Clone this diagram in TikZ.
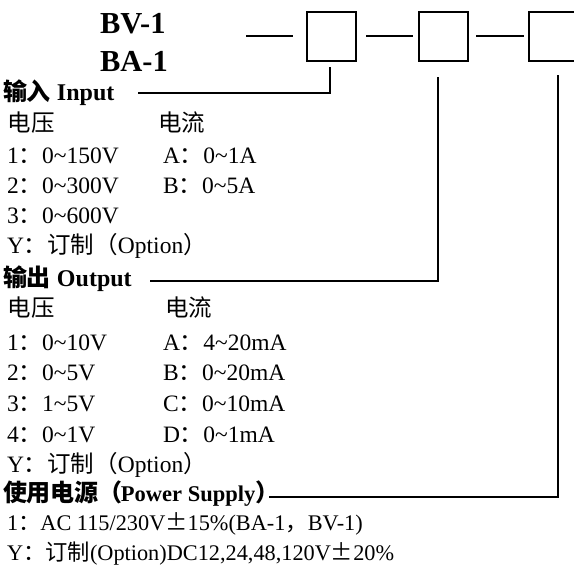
\documentclass[tikz,border=0pt]{standalone}
\usepackage{fontspec}
\setmainfont{Liberation Serif}
\newfontfamily\cjk{Noto Sans CJK SC}
\newcommand\zh[1]{{\cjk #1}}
\newcommand\tld{\textasciitilde}
\begin{document}
\begin{tikzpicture}[x=1pt,y=-1pt,
  txt/.style={anchor=base west, inner sep=0pt, outer sep=0pt, font=\fontsize{23.5}{23.5}\selectfont},
  txtsm/.style={anchor=base west, inner sep=0pt, outer sep=0pt, font=\fontsize{22.3}{22.3}\selectfont},
  head/.style={anchor=base west, inner sep=0pt, outer sep=0pt, font=\fontsize{24}{24}\selectfont\bfseries},
  ttl/.style={anchor=base west, inner sep=0pt, outer sep=0pt, font=\fontsize{30.5}{30.5}\selectfont\bfseries},
  codebox/.style={draw, line width=1.4pt, minimum width=49pt, minimum height=49pt, inner sep=0pt, outer sep=0pt},
  conn/.style={line width=1.4pt}]
\clip (0,0) rectangle (574,571);
\fill[white] (0,0) rectangle (574,571);
% title
\node[ttl] (bv) at (100,33) {BV-1};
\node[ttl] (ba) at (100,71) {BA-1};
% code boxes
\node[codebox] (b1) at (331.5,36.5) {};
\node[codebox] (b2) at (443.5,36.5) {};
\node[codebox] (b3) at (553.5,36.5) {};
\coordinate (d0) at (246,36);
\coordinate (d0e) at (293,36);
\coordinate (d1) at (366,36);
\coordinate (d1e) at (413,36);
\coordinate (d2) at (476,36);
\coordinate (d2e) at (524,36);
\draw[conn] (d0) -- (d0e);
\draw[conn] (d1) -- (d1e);
\draw[conn] (d2) -- (d2e);
% input section
\node[head] (inh) at (3,100) {\zh{输入} Input};
\node[txt] (iv) at (8,131) {\zh{电压}};
\node[txt] (ic) at (158,131) {\zh{电流}};
\node[txt] (i1) at (7,163) {1\zh{：}0\tld150V};
\node[txt] (ia) at (163,163) {A\zh{：}0\tld1A};
\node[txt] (i2) at (7,193) {2\zh{：}0\tld300V};
\node[txt] (ib) at (163,193) {B\zh{：}0\tld5A};
\node[txt] (i3) at (7,223) {3\zh{：}0\tld600V};
\node[txt] (iy) at (7,253) {Y\zh{：订制（}Option\zh{）}};
% output section
\node[head] (outh) at (3,286) {\zh{输出} Output};
\node[txt] (ov) at (8,316) {\zh{电压}};
\node[txt] (oc) at (165,316) {\zh{电流}};
\node[txt] (o1) at (7,350) {1\zh{：}0\tld10V};
\node[txt] (oa) at (163,350) {A\zh{：}4\tld20mA};
\node[txt] (o2) at (7,380) {2\zh{：}0\tld5V};
\node[txt] (ob) at (163,380) {B\zh{：}0\tld20mA};
\node[txt] (o3) at (7,411) {3\zh{：}1\tld5V};
\node[txt] (oc2) at (163,411) {C\zh{：}0\tld10mA};
\node[txt] (o4) at (7,442) {4\zh{：}0\tld1V};
\node[txt] (od) at (163,442) {D\zh{：}0\tld1mA};
\node[txt] (oy) at (7,472) {Y\zh{：订制（}Option\zh{）}};
% power section
\node[head] (ph) at (3,501) {\zh{使用电源（}\kern-2pt{\fontsize{22.5}{22.5}\selectfont Power Supply}\zh{）}};
\node[txtsm] (p1) at (7,530) {1\zh{：}AC 115/230V\zh{±}15\%(BA-1\zh{，}BV-1)};
\node[txtsm] (py) at (7,560) {Y\zh{：订制}(Option)DC12,24,48,120V\zh{±}20\%};
% connectors from boxes to headings
\coordinate (c1) at (330,93);
\coordinate (c1t) at (330,67);
\coordinate (s1) at (138,93);
\draw[conn] (s1) -- (c1) -- (c1t);
\coordinate (c2) at (438,281);
\coordinate (c2t) at (438,77);
\coordinate (s2) at (150,281);
\draw[conn] (s2) -- (c2) -- (c2t);
\coordinate (c3) at (558,497);
\coordinate (c3t) at (558,75);
\coordinate (s3) at (269,497);
\draw[conn] (s3) -- (c3) -- (c3t);
\end{tikzpicture}
\end{document}
